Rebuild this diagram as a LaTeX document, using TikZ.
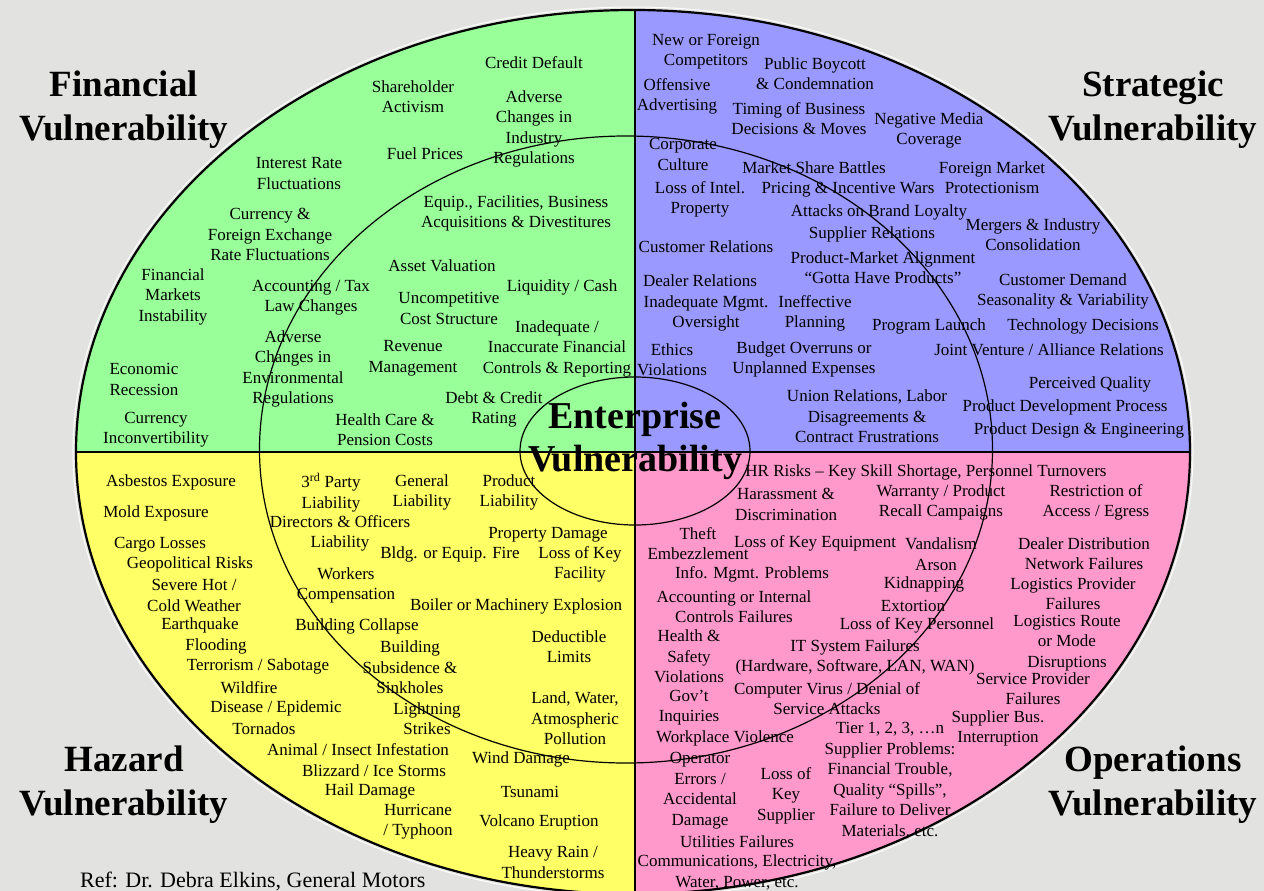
\documentclass[tikz,border=0pt]{standalone}
\usepackage{fontspec}
\setmainfont{Liberation Serif}
\definecolor{bg}{RGB}{226,226,224}
\definecolor{qgreen}{RGB}{153,255,153}
\definecolor{qblue}{RGB}{153,153,255}
\definecolor{qyellow}{RGB}{255,255,102}
\definecolor{qpink}{RGB}{255,153,204}
\begin{document}
\begin{tikzpicture}[x=1pt,y=-1pt,
  lbl/.style={align=center,inner sep=0pt,yshift=-1.5pt,font=\fontsize{17}{20.5}\selectfont},
  ttl/.style={align=center,inner sep=0pt,font=\fontsize{37}{44}\selectfont\bfseries},
  ctr/.style={align=center,inner sep=0pt,font=\fontsize{38}{43}\selectfont\bfseries},
  quadline/.style={line width=2pt},
  ringline/.style={line width=1.2pt}]
\fill[bg] (0,0) rectangle (1264,891);
\useasboundingbox (0,0) rectangle (1264,891);
% quadrant fills
\begin{scope}
\clip (633,452) ellipse [x radius=557, y radius=442];
\fill[qgreen] (0,0) rectangle (635,452);
\fill[qblue] (635,0) rectangle (1264,452);
\fill[qyellow] (0,452) rectangle (635,900);
\fill[qpink] (635,452) rectangle (1264,900);
\end{scope}
% rings and dividers
\coordinate (vtop) at (635,10);
\coordinate (vbot) at (635,900);
\coordinate (hl) at (76,452);
\coordinate (hr) at (1190,452);
\draw[quadline] (vtop) -- (vbot);
\draw[quadline] (hl) -- (hr);
\draw[white,line width=1pt] (633,452) ellipse [x radius=560, y radius=445];
\draw[line width=2.2pt] (633,452) ellipse [x radius=557, y radius=442];
\draw[ringline] (626,449.5) ellipse [x radius=366.5, y radius=313.5];
\draw[ringline] (635,451) ellipse [x radius=115, y radius=74];
% titles
\node[ttl] (tf) at (124,110) {Financial\\Vulnerability};
\node[ttl] (ts) at (1153,110) {Strategic\\Vulnerability};
\node[ttl] (th) at (124,785) {Hazard\\Vulnerability};
\node[ttl] (to) at (1153,785) {Operations\\Vulnerability};
\node[ctr] (ce) at (635,441) {Enterprise\\Vulnerability};
% financial
\node[lbl] (f1) at (534,61) {Credit Default};
\node[lbl] (f2) at (413,95) {Shareholder\\Activism};
\node[lbl] (f3) at (534,127.5) {Adverse\\Changes in\\Industry\\Regulations};
\node[lbl] (f4) at (425,152) {Fuel Prices};
\node[lbl] (f5) at (299,172) {Interest Rate\\Fluctuations};
\node[lbl] (f6) at (270,233) {Currency \&\\Foreign Exchange\\Rate Fluctuations};
\node[lbl] (f7) at (516,212) {Equip., Facilities, Business\\Acquisitions \& Divestitures};
\node[lbl] (f8) at (173,295) {Financial\\Markets\\Instability};
\node[lbl] (f9) at (311,296) {Accounting / Tax\\Law Changes};
\node[lbl] (f10) at (442,264) {Asset Valuation};
\node[lbl] (f11) at (562,286) {Liquidity / Cash};
\node[lbl] (f12) at (449,307) {Uncompetitive\\Cost Structure};
\node[lbl] (f13) at (557,347) {Inadequate /\\Inaccurate Financial\\Controls \& Reporting};
\node[lbl] (f14) at (293,367.5) {Adverse\\Changes in\\Environmental\\Regulations};
\node[lbl] (f15) at (413,357) {Revenue\\Management};
\node[lbl] (f16) at (144,378) {Economic\\Recession};
\node[lbl] (f17) at (494,408) {Debt \& Credit\\Rating};
\node[lbl] (f18) at (385,428) {Health Care \&\\Pension Costs};
\node[lbl] (f19) at (156,428) {Currency\\Inconvertibility};
% strategic
\node[lbl] (s1) at (706,50) {New or Foreign\\Competitors};
\node[lbl] (s2) at (815,72) {Public Boycott\\\& Condemnation};
\node[lbl] (s3) at (677,95) {Offensive\\Advertising};
\node[lbl] (s4) at (799,117) {Timing of Business\\Decisions \& Moves};
\node[lbl] (s5) at (929,129) {Negative Media\\Coverage};
\node[lbl] (s6) at (683,153) {Corporate\\Culture};
\node[lbl] (s7) at (814,166) {Market Share Battles};
\node[lbl] (s8) at (992,176) {Foreign Market\\Protectionism};
\node[lbl] (s9) at (700,198) {Loss of Intel.\\Property};
\node[lbl] (s10) at (848,188) {Pricing \& Incentive Wars};
\node[lbl] (s11) at (879,211) {Attacks on Brand Loyalty};
\node[lbl] (s12) at (1033,233) {Mergers \& Industry\\Consolidation};
\node[lbl] (s13) at (872,233) {Supplier Relations};
\node[lbl] (s14) at (706,245) {Customer Relations};
\node[lbl] (s15) at (883,266) {Product-Market Alignment\\“Gotta Have Products”};
\node[lbl] (s16) at (700,279) {Dealer Relations};
\node[lbl] (s17) at (1063,290) {Customer Demand\\Seasonality \& Variability};
\node[lbl] (s18) at (706,312) {Inadequate Mgmt.\\Oversight};
\node[lbl] (s19) at (815,312) {Ineffective\\Planning};
\node[lbl] (s20) at (929,325) {Program Launch};
\node[lbl] (s21) at (1083,325) {Technology Decisions};
\node[lbl] (s22) at (672,358) {Ethics\\Violations};
\node[lbl] (s23) at (804,358) {Budget Overruns or\\Unplanned Expenses};
\node[lbl] (s24) at (1049,348) {Joint Venture / Alliance Relations};
\node[lbl] (s25) at (1090,383) {Perceived Quality};
\node[lbl] (s26) at (867,415) {Union Relations, Labor\\Disagreements \&\\Contract Frustrations};
\node[lbl] (s27) at (1065,406) {Product Development Process};
\node[lbl] (s28) at (1079,429) {Product Design \& Engineering};
% hazard
\node[lbl] (h1) at (171,481) {Asbestos Exposure};
\node[lbl] (h2) at (156,512) {Mold Exposure};
\node[lbl] (h3) at (160,543) {Cargo Losses};
\node[lbl] (h4) at (190,563) {Geopolitical Risks};
\node[lbl] (h5) at (194,594) {Severe Hot /\\Cold Weather};
\node[lbl] (h6) at (200,624) {Earthquake};
\node[lbl] (h7) at (216,645) {Flooding};
\node[lbl] (h8) at (258,665) {Terrorism / Sabotage};
\node[lbl] (h9) at (249,686) {Wildfire};
\node[lbl] (h10) at (276,707) {Disease / Epidemic};
\node[lbl] (h11) at (264,727) {Tornados};
\node[lbl] (h12) at (358,748) {Animal / Insect Infestation};
\node[lbl] (h13) at (374,769) {Blizzard / Ice Storms};
\node[lbl] (h14) at (370,790) {Hail Damage};
\node[lbl] (h15) at (418,820) {Hurricane\\/ Typhoon};
\node[lbl] (h16) at (331,491) {3\textsuperscript{rd} Party\\Liability};
\node[lbl] (h17) at (422,491) {General\\Liability};
\node[lbl] (h18) at (509,491) {Product\\Liability};
\node[lbl] (h19) at (340,532) {Directors \& Officers\\Liability};
\node[lbl] (h20) at (548,533) {Property Damage};
\node[lbl] (h21) at (450,553) {Bldg. or Equip. Fire};
\node[lbl] (h22) at (580,563) {Loss of Key\\Facility};
\node[lbl] (h23) at (346,584) {Workers\\Compensation};
\node[lbl] (h24) at (516,605) {Boiler or Machinery Explosion};
\node[lbl] (h25) at (357,625) {Building Collapse};
\node[lbl] (h26) at (569,645) {Deductible\\Limits};
\node[lbl] (h27) at (410,666) {Building\\Subsidence \&\\Sinkholes};
\node[lbl] (h28) at (427,717) {Lightning\\Strikes};
\node[lbl] (h29) at (575,717) {Land, Water,\\Atmospheric\\Pollution};
\node[lbl] (h30) at (521,758) {Wind Damage};
\node[lbl] (h31) at (530,790) {Tsunami};
\node[lbl] (h32) at (539,821) {Volcano Eruption};
\node[lbl] (h33) at (553,861) {Heavy Rain /\\Thunderstorms};
\node[anchor=base west,inner sep=0pt,font=\fontsize{22}{26}\selectfont] (ref) at (80,887) {Ref: Dr. Debra Elkins, General Motors};
% operations
\node[lbl] (o1) at (926,471) {HR Risks – Key Skill Shortage, Personnel Turnovers};
\node[lbl] (o2) at (786,503) {Harassment \&\\Discrimination};
\node[lbl] (o3) at (941,501) {Warranty / Product\\Recall Campaigns};
\node[lbl] (o4) at (1096,501) {Restriction of\\Access / Egress};
\node[lbl] (o5) at (698,542) {Theft\\Embezzlement};
\node[lbl] (o6) at (815,542) {Loss of Key Equipment};
\node[lbl] (o7) at (941,542) {Vandalism};
\node[lbl] (o8) at (936,563) {Arson};
\node[lbl] (o9) at (924,583) {Kidnapping};
\node[lbl] (o10) at (913,604) {Extortion};
\node[lbl] (o11) at (1084,552) {Dealer Distribution\\Network Failures};
\node[lbl] (o12) at (752,573) {Info. Mgmt. Problems};
\node[lbl] (o13) at (1073,592) {Logistics Provider\\Failures};
\node[lbl] (o14) at (734,605) {Accounting or Internal\\Controls Failures};
\node[lbl] (o15) at (917,624) {Loss of Key Personnel};
\node[lbl] (o16) at (1067,641.5) {Logistics Route\\or Mode\\Disruptions};
\node[lbl] (o17) at (689,655) {Health \&\\Safety\\Violations};
\node[lbl] (o18) at (855,656) {IT System Failures\\(Hardware, Software, LAN, WAN)};
\node[lbl] (o19) at (1033,687) {Service Provider\\Failures};
\node[lbl] (o20) at (827,697) {Computer Virus / Denial of\\Service Attacks};
\node[lbl] (o21) at (689,706) {Gov’t\\Inquiries};
\node[lbl] (o22) at (998,727) {Supplier Bus.\\Interruption};
\node[lbl] (o23) at (890,779) {Tier 1, 2, 3, …n\\Supplier Problems:\\Financial Trouble,\\Quality “Spills”,\\Failure to Deliver\\Materials, etc.};
\node[lbl] (o24) at (725,737) {Workplace Violence};
\node[lbl] (o25) at (700,789) {Operator\\Errors /\\Accidental\\Damage};
\node[lbl] (o26) at (786,794) {Loss of\\Key\\Supplier};
\node[lbl] (o27) at (737,840) {Utilities Failures};
\node[lbl] (o28) at (737,871) {Communications, Electricity,\\Water, Power, etc.};
\end{tikzpicture}
\end{document}
